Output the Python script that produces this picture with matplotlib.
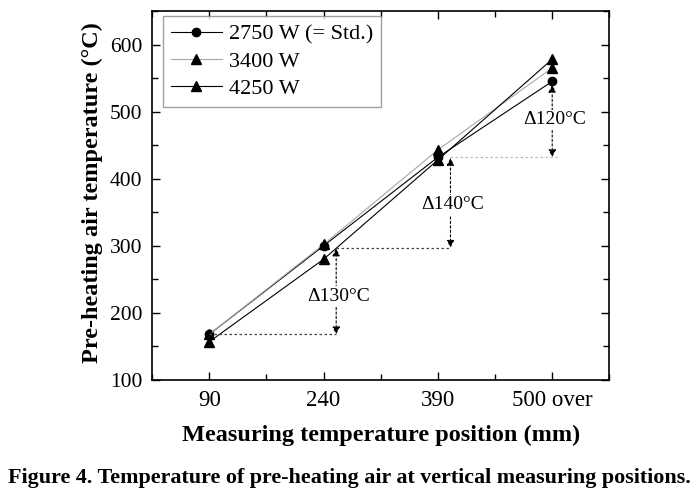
import matplotlib.pyplot as plt
import numpy as np

plt.rcParams['font.family'] = ['Liberation Serif', 'DejaVu Serif']

positions = ['90', '240', '390', '500 over']
std_2750 = [168, 300, 432, 545]
w_3400 = [168, 302, 443, 565]
w_4250 = [157, 280, 428, 578]

# delta annotations: x of arrow, low value, high value, label, label height
deltas = [
    (1.11, 168, 296, '\u0394130\u00b0C', 225),
    (2.11, 297, 431, '\u0394140\u00b0C', 361),
    (3.00, 432, 540, '\u0394120\u00b0C', 488),
]
guide_lines = [  # x start, x end, value
    (0.0, 1.11, 168),
    (1.11, 2.11, 297),
    (2.11, 3.06, 432),
]

fig = plt.figure(figsize=(6.98, 4.98), dpi=100)
ax = fig.add_axes([0.218, 0.237, 0.655, 0.741])

x = np.arange(len(positions))
ax.plot(x, std_2750, color='black', lw=0.8, marker='o', ms=6, label='2750 W (= Std.)')
ax.plot(x, w_3400, color='#a8a8a8', lw=0.8, marker='^', ms=6.5, mfc='black', mec='black',
        label='3400 W')
ax.plot(x, w_4250, color='black', lw=0.8, marker='^', ms=6.5, label='4250 W')

for x0, x1, v in guide_lines:
    c = '#bbbbbb' if v > 400 else '#444444'
    ax.plot([x0, x1], [v, v], color=c, lw=0.9, ls=(0, (2, 2)))

for xa, lo, hi, txt, ty in deltas:
    ax.annotate('', xy=(xa, lo), xytext=(xa, hi),
                arrowprops=dict(arrowstyle='<|-|>', color='black', lw=0.8,
                                ls=(0, (2, 2)), mutation_scale=11,
                                shrinkA=0, shrinkB=0))
    ax.text(xa + 0.02, ty, txt, ha='center', va='center', fontsize=14,
            bbox=dict(facecolor='white', edgecolor='none', pad=1))

ax.set_xlim(-0.5, 3.5)
ax.set_ylim(100, 650)
ax.set_xticks(x)
ax.set_xticklabels(positions)
ax.set_xticks(np.arange(-0.5, 3.6, 0.5), minor=True)
ax.set_yticks(np.arange(100, 601, 100))
ax.set_yticks(np.arange(150, 651, 100), minor=True)
ax.tick_params(which='both', direction='in', top=True, right=True)
ax.tick_params(which='major', length=6, width=1)
ax.tick_params(which='minor', length=4, width=1)
ax.tick_params(axis='x', pad=7, labelsize=16.5)
ax.tick_params(axis='y', pad=7, labelsize=15.5)
for s in ax.spines.values():
    s.set_linewidth(1.2)

ax.set_xlabel('Measuring temperature position (mm)', fontsize=17.5, fontweight='bold', labelpad=10)
ax.set_ylabel('Pre-heating air temperature (\u00b0C)', fontsize=17.5, fontweight='bold')
ax.yaxis.set_label_coords(-0.107, 0.507)

leg = ax.legend(loc='upper left', bbox_to_anchor=(0.024, 0.986), borderaxespad=0,
                fontsize=16, handlelength=2.3, frameon=True, fancybox=False,
                labelspacing=0.3, handletextpad=0.3, borderpad=0.35)
leg.get_frame().set_edgecolor('#888888')
leg.get_frame().set_linewidth(1.0)

fig.text(0.5, 0.04, 'Figure 4. Temperature of pre-heating air at vertical measuring positions.',
         ha='center', va='center', fontsize=15.8, fontweight='bold')

fig.savefig('out.png', dpi=100)
